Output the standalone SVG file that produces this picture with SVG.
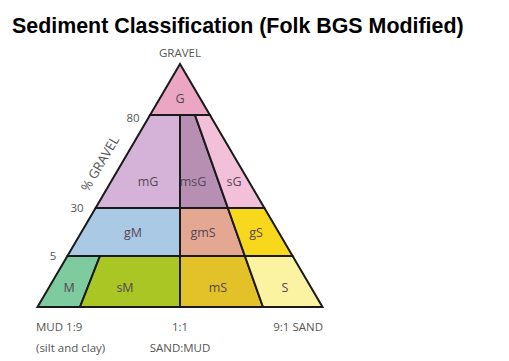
<svg xmlns="http://www.w3.org/2000/svg" width="509" height="361" viewBox="0 0 509 361">
<style>
.r{stroke:#1a1a1a;stroke-width:2;stroke-linejoin:miter}
.l{font-family:"Open Sans","Liberation Sans",sans-serif;font-size:12.5px;fill:#574555;text-anchor:middle}
.a{font-family:"Open Sans","Liberation Sans",sans-serif;font-size:11.5px;fill:#555;text-anchor:middle}
.t{font-family:"Liberation Sans",Arial,sans-serif;font-size:21.4px;font-weight:bold;fill:#000}
</style>
<rect width="509" height="361" fill="#fff"/>
<text class="t" x="12" y="33">Sediment Classification (Folk BGS Modified)</text>
<g id="G"><polygon class="r" fill="#EBA6C4" points="180,64 150.1,115 209.9,115"/><text class="l" x="180" y="103">G</text></g>
<g id="mG"><polygon class="r" fill="#D5B3D8" points="150.1,115 180,115 180,208 95.6,208"/><text class="l" x="148" y="186">mG</text></g>
<g id="msG"><polygon class="r" fill="#B78FB3" points="180,115 195,115 227.9,208 180,208"/><text class="l" x="193" y="186">msG</text></g>
<g id="sG"><polygon class="r" fill="#F3C0DA" points="195,115 209.9,115 264.4,208 227.9,208"/><text class="l" x="234" y="186">sG</text></g>
<g id="gM"><polygon class="r" fill="#A9C9E5" points="95.6,208 180,208 180,256 67.4,256"/><text class="l" x="133" y="237">gM</text></g>
<g id="gmS"><polygon class="r" fill="#E3A792" points="180,208 227.9,208 244.9,256 180,256"/><text class="l" x="203" y="237">gmS</text></g>
<g id="gS"><polygon class="r" fill="#F8D81C" points="227.9,208 264.4,208 292.6,256 244.9,256"/><text class="l" x="256" y="237">gS</text></g>
<g id="M"><polygon class="r" fill="#7ECB9F" points="67.4,256 100,256 80,307 37.5,307"/><text class="l" x="69" y="292">M</text></g>
<g id="sM"><polygon class="r" fill="#A9C624" points="100,256 180,256 180,307 80,307"/><text class="l" x="125" y="292">sM</text></g>
<g id="mS"><polygon class="r" fill="#E3C128" points="180,256 244.9,256 263,307 180,307"/><text class="l" x="218" y="292">mS</text></g>
<g id="S"><polygon class="r" fill="#FBF3A2" points="244.9,256 292.6,256 322.5,307 263,307"/><text class="l" x="285" y="292">S</text></g>
<g id="axis">
<text class="a" x="180" y="57">GRAVEL</text>
<text class="a" x="133" y="122">80</text>
<text class="a" x="77" y="212">30</text>
<text class="a" x="53" y="260">5</text>
<text class="a" style="font-size:13px" transform="translate(104,166) rotate(-59.5)">% GRAVEL</text>
<text class="a" x="36" y="331" style="text-anchor:start">MUD 1:9</text>
<text class="a" x="36" y="352" style="text-anchor:start">(silt and clay)</text>
<text class="a" x="180" y="331">1:1</text>
<text class="a" x="180" y="352">SAND:MUD</text>
<text class="a" x="323" y="331" style="text-anchor:end">9:1 SAND</text>
</g>
</svg>
